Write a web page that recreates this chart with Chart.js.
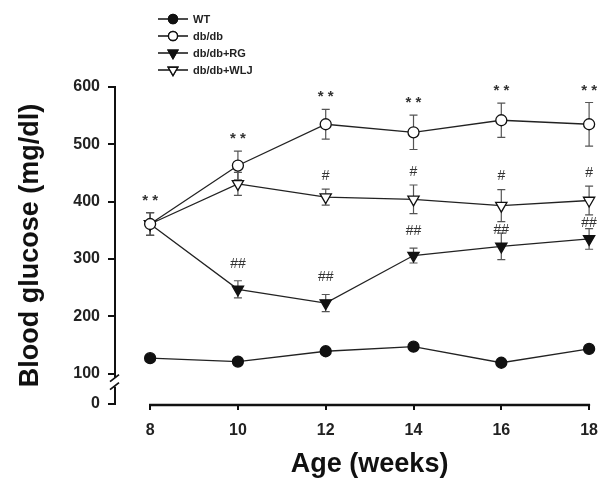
<!DOCTYPE html>
<html>
<head>
<meta charset="utf-8">
<script src="https://cdn.jsdelivr.net/npm/chart.js@4.4.0/dist/chart.umd.min.js"></script>
<style>
  html, body { margin: 0; padding: 0; background: #fff; }
  #wrap { width: 609px; height: 487px; }
</style>
</head>
<body>
<div id="wrap"><canvas id="grafico"></canvas></div>
<script>
// dados (media +/- erro)
const ages = [8, 10, 12, 14, 16, 18];
const wt = [127, 121, 139, 147, 119, 143];
const wtErr = [4, 4, 4, 4, 4, 4];
const dbdb = [361, 463, 535, 521, 542, 535];
const dbdbErr = [20, 25, 26, 30, 30, 38];
const dbdbRg = [361, 247, 223, 306, 322, 335];
const dbdbRgErr = [20, 15, 15, 13, 23, 18];
const dbdbWlj = [361, 431, 408, 404, 393, 402];
const dbdbWljErr = [20, 20, 14, 25, 28, 25];

// marcas de significancia
const marksDbdb = ['**', '**', '**', '**', '**', '**'];
const marksRg = ['', '##', '##', '##', '##', '##'];
const marksWlj = ['', '', '#', '#', '#', '#'];

const xTicks = [8, 10, 12, 14, 16, 18];
const yTicks = [0, 100, 200, 300, 400, 500, 600];
const yBreakBase = 47; // valor do eixo onde fica o "0" abaixo da quebra

const FONT = "'Liberation Sans', Arial, sans-serif";

function serie(label, vals, errs, marks, style, filled, markGap, avoid) {
  return {
    label: label,
    data: ages.map((a, i) => ({ x: a, y: vals[i] })),
    errs: errs,
    marks: marks,
    markGap: markGap,
    avoid: avoid,
    borderColor: '#222',
    borderWidth: 1.3,
    pointStyle: style,
    pointRotation: style === 'triangle' ? 180 : 0,
    pointRadius: style === 'triangle' ? 6.5 : 5.5,
    pointHoverRadius: style === 'triangle' ? 6.5 : 5.5,
    pointBorderWidth: 1.3,
    pointBorderColor: '#111',
    pointBackgroundColor: filled ? '#111' : '#fff',
    tension: 0,
    clip: false
  };
}

const errorBars = {
  id: 'errorBars',
  beforeDatasetsDraw(chart) {
    const { ctx, scales: { y } } = chart;
    ctx.save();
    ctx.strokeStyle = '#555';
    ctx.lineWidth = 1.2;
    chart.data.datasets.forEach((ds, di) => {
      const meta = chart.getDatasetMeta(di);
      meta.data.forEach((pt, i) => {
        const v = ds.data[i].y, e = ds.errs[i];
        const yt = y.getPixelForValue(v + e), yb = y.getPixelForValue(v - e);
        ctx.beginPath();
        ctx.moveTo(pt.x, yt); ctx.lineTo(pt.x, yb);
        ctx.moveTo(pt.x - 4, yt); ctx.lineTo(pt.x + 4, yt);
        ctx.moveTo(pt.x - 4, yb); ctx.lineTo(pt.x + 4, yb);
        ctx.stroke();
      });
    });
    ctx.restore();
  },
  afterDatasetsDraw(chart) {
    const { ctx, scales: { y } } = chart;
    const sets = chart.data.datasets;
    ctx.save();
    ctx.fillStyle = '#333';
    ctx.textAlign = 'center';
    ctx.textBaseline = 'middle';
    sets.forEach((ds, di) => {
      const meta = chart.getDatasetMeta(di);
      meta.data.forEach((pt, i) => {
        const m = ds.marks[i];
        if (!m) return;
        let my = y.getPixelForValue(ds.data[i].y + ds.errs[i]) - ds.markGap;
        // nao encostar na barra de erro da serie de cima
        if (ds.avoid != null) {
          const o = sets[ds.avoid];
          my = Math.max(my, y.getPixelForValue(o.data[i].y - o.errs[i]) + 8);
        }
        if (m[0] === '*') {
          ctx.font = 'bold 15px ' + FONT;
          ctx.fillText(m.split('').join(' '), pt.x, my + 4);
        } else {
          ctx.font = '14px ' + FONT;
          ctx.fillText(m, pt.x, my);
        }
      });
    });
    ctx.restore();
  }
};

const axisExtras = {
  id: 'axisExtras',
  afterDraw(chart) {
    const { ctx, chartArea, scales: { x, y } } = chart;
    ctx.save();
    // linha do eixo x so entre 8 e 18
    const xb = chartArea.bottom + 1;
    ctx.strokeStyle = '#111';
    ctx.lineWidth = 2.5;
    ctx.beginPath();
    ctx.moveTo(x.getPixelForValue(xTicks[0]) - 1, xb);
    ctx.lineTo(x.getPixelForValue(xTicks[xTicks.length - 1]) + 1, xb);
    ctx.stroke();

    // quebra do eixo y
    const ax = chartArea.left;
    const y100 = y.getPixelForValue(100);
    ctx.fillStyle = '#fff';
    ctx.fillRect(ax - 3, y100 + 4, 6, 9);
    ctx.lineWidth = 1.8;
    ctx.beginPath();
    ctx.moveTo(ax - 5, y100 + 8); ctx.lineTo(ax + 4, y100 + 1);
    ctx.moveTo(ax - 5, y100 + 16); ctx.lineTo(ax + 4, y100 + 9);
    ctx.stroke();

    // titulo do eixo x centrado em 8..18
    ctx.fillStyle = '#111';
    ctx.font = 'bold 27px ' + FONT;
    ctx.textAlign = 'center';
    ctx.textBaseline = 'middle';
    const cx = (x.getPixelForValue(xTicks[0]) + x.getPixelForValue(xTicks[xTicks.length - 1])) / 2;
    ctx.fillText('Age (weeks)', cx, 465);

    // legenda
    ctx.font = 'bold 11px ' + FONT;
    ctx.textAlign = 'left';
    chart.data.datasets.forEach((ds, i) => {
      const ly = 19 + i * 17;
      ctx.strokeStyle = '#111';
      ctx.lineWidth = 1.5;
      ctx.beginPath();
      ctx.moveTo(158, ly); ctx.lineTo(188, ly);
      ctx.stroke();
      Chart.helpers.drawPoint(ctx, {
        pointStyle: ds.pointStyle,
        rotation: ds.pointRotation,
        radius: ds.pointStyle === 'triangle' ? 5.5 : 4.5,
        borderWidth: 1.3
      }, 173, ly);
      ctx.fillStyle = ds.pointBackgroundColor;
      ctx.strokeStyle = '#111';
      ctx.lineWidth = 1.3;
      ctx.fill();
      ctx.stroke();
      ctx.fillStyle = '#222';
      ctx.fillText(ds.label, 193, ly + 1);
    });
    ctx.restore();
  }
};

const ctx = document.getElementById('grafico').getContext('2d');
new Chart(ctx, {
  type: 'line',
  data: {
    datasets: [
      serie('WT', wt, wtErr, ['', '', '', '', '', ''], 'circle', true, 0, null),
      serie('db/db', dbdb, dbdbErr, marksDbdb, 'circle', false, 16, null),
      serie('db/db+RG', dbdbRg, dbdbRgErr, marksRg, 'triangle', true, 17, 3),
      serie('db/db+WLJ', dbdbWlj, dbdbWljErr, marksWlj, 'triangle', false, 13, null)
    ]
  },
  options: {
    responsive: true,
    maintainAspectRatio: false,
    animation: false,
    events: [],
    layout: { padding: { top: 87, right: 13, left: 0, bottom: 0 } },
    plugins: { legend: { display: false }, tooltip: { enabled: false } },
    scales: {
      x: {
        type: 'linear',
        min: 7.2,
        max: 18,
        afterBuildTicks: s => { s.ticks = xTicks.map(v => ({ value: v })); },
        afterFit: s => { s.height = 83; },
        border: { display: false },
        grid: { drawOnChartArea: false, color: '#111', lineWidth: 2, tickLength: 6 },
        ticks: {
          color: '#222',
          padding: 11,
          maxRotation: 0,
          font: { family: FONT, size: 16, weight: 'bold' }
        }
      },
      y: {
        min: yBreakBase,
        max: 600,
        afterBuildTicks: s => { s.ticks = yTicks.map(v => ({ value: v === 0 ? yBreakBase : v })); },
        afterFit: s => { s.width = 115; },
        border: { display: true, color: '#111', width: 2 },
        grid: { drawOnChartArea: false, color: '#111', lineWidth: 2, tickLength: 7 },
        ticks: {
          color: '#222',
          padding: 8,
          font: { family: FONT, size: 16, weight: 'bold' },
          callback: v => (v === yBreakBase ? '0' : v)
        },
        title: {
          display: true,
          text: 'Blood glucose (mg/dl)',
          color: '#111',
          padding: { top: 14, bottom: 0 },
          font: { family: FONT, size: 27, weight: 'bold' }
        }
      }
    }
  },
  plugins: [errorBars, axisExtras]
});
</script>
</body>
</html>
